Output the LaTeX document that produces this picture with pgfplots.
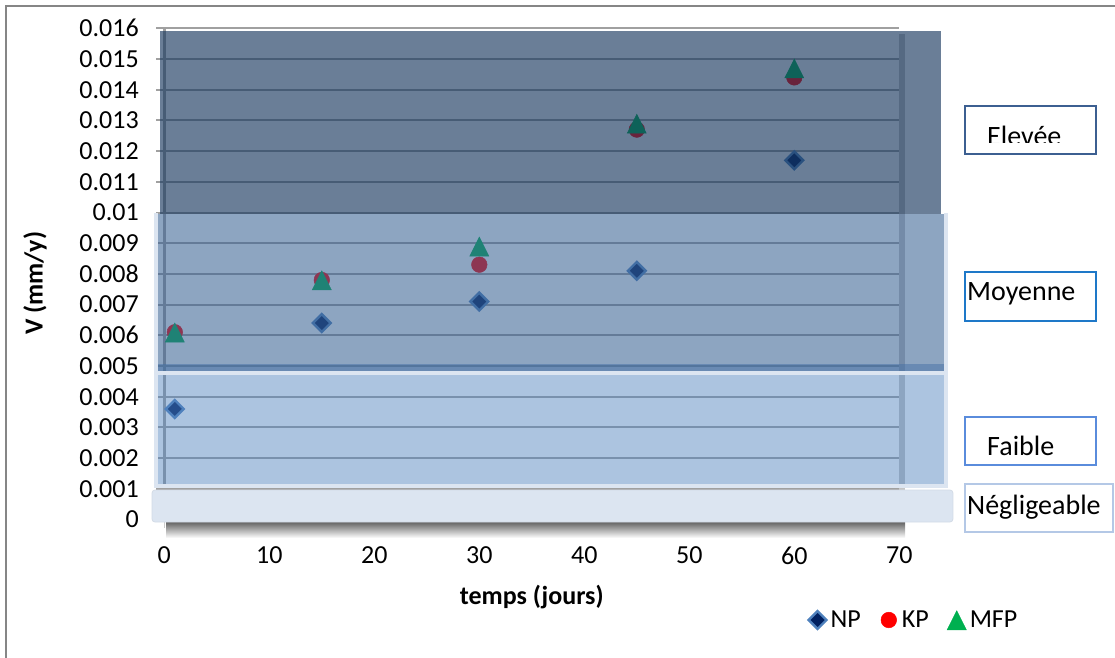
\documentclass[border=0pt]{standalone}
\usepackage{pgfplots}
\pgfplotsset{compat=1.18}
\usepackage{fontspec}
\setmainfont{Carlito}
\definecolor{npfill}{RGB}{0,32,96}
\definecolor{npedge}{RGB}{79,129,189}
\definecolor{kpc}{RGB}{255,0,0}
\definecolor{mfpc}{RGB}{0,176,80}
\definecolor{elev}{RGB}{23,55,94}
\definecolor{moy}{RGB}{55,96,146}
\definecolor{faib}{RGB}{79,129,189}
\definecolor{negl}{RGB}{220,229,241}
\definecolor{outl}{RGB}{220,229,241}
\definecolor{gridc}{RGB}{160,160,160}
\definecolor{xtickc}{RGB}{205,205,205}
\definecolor{framec}{RGB}{134,134,134}
\definecolor{shadowc}{RGB}{197,197,197}
\definecolor{boxA}{RGB}{60,95,145}
\definecolor{boxB}{RGB}{30,120,200}
\definecolor{boxC}{RGB}{90,140,220}
\definecolor{boxD}{RGB}{180,200,230}
\pgfplotsset{myleg/.style={legend image code/.code={\path[draw=none,fill=none] (0pt,0pt) -- (22pt,0pt);\draw[##1,draw=none] plot coordinates {(11pt,0pt)};}}}
\newcommand{\tfont}{\fontsize{26}{31}\selectfont}
\newcommand{\bfont}{\fontsize{28}{33}\selectfont}
\begin{document}
\begin{tikzpicture}
\begin{scope}[x=1pt,y=1pt]
\useasboundingbox (0,0) rectangle (1115,657);
\draw[framec, line width=1.5] (6,-5) -- (6,651) -- (1120,651);
% plot-area shadow
\fill[shadowc] (899,137) rectangle (905,623);
\fill[top color=black!65, bottom color=white] (166,119) rectangle (905,136);
\end{scope}
\begin{axis}[
  at={(164.3pt,137.5pt)}, anchor=south west,
  scale only axis, width=735pt, height=491.2pt,
  xmin=0, xmax=70, ymin=0, ymax=0.016,
  clip=false, set layers,
  axis x line*=bottom, axis y line*=left,
  axis line style={gridc, line width=2.5pt},
  xtick={0,10,20,30,40,50,60,70},
  xticklabels={0,10,20,30,40,50,60,70},
  ytick={0,0.001,0.002,0.003,0.004,0.005,0.006,0.007,0.008,0.009,0.01,0.011,0.012,0.013,0.014,0.015,0.016},
  yticklabels={0,0.001,0.002,0.003,0.004,0.005,0.006,0.007,0.008,0.009,0.01,0.011,0.012,0.013,0.014,0.015,0.016},
  scaled y ticks=false,
  tick align=outside, major tick length=8pt,
  ytick style={gridc, line width=2pt},
  xtick style={xtickc, line width=1.5pt},
  ymajorgrids, grid style={gridc, line width=2pt},
  tick label style={font=\tfont, text=black},
  yticklabel style={xshift=-14pt},
  xticklabel style={yshift=-16pt},
  label style={font=\tfont\bfseries},
  xlabel={temps (jours)}, ylabel={V (mm/y)},
  xlabel style={at={(axis description cs:0.5,-0.158)}, anchor=center},
  ylabel style={at={(axis description cs:-0.176,0.481)}, anchor=center},
  legend style={at={(axis description cs:1.0186,-0.2046)}, anchor=center, draw=none, fill=none,
    legend columns=3, font=\tfont, /tikz/every even column/.append style={column sep=15pt}},
  legend cell align=left,
]
\addplot[only marks, myleg, mark=square*, mark size=6.3pt,
  mark options={rotate=45, fill=npfill, draw=npedge, line width=2.4pt}]
  coordinates {(1,0.0036) (15,0.0064) (30,0.0071) (45,0.0081) (60,0.0117)};
\addlegendentry{NP}
\addplot[only marks, myleg, mark=*, mark size=7.8pt, color=kpc, mark options={fill=kpc, draw=kpc, line width=0.5pt}]
  coordinates {(1,0.0061) (15,0.0078) (30,0.0083) (45,0.0127) (60,0.0144)};
\addlegendentry{KP}
\addplot[only marks, myleg, mark=triangle*, mark size=11pt, color=mfpc, mark options={fill=mfpc, draw=mfpc, line width=0.5pt, yscale=1.15, yshift=-3pt}]
  coordinates {(1,0.0061) (15,0.0078) (30,0.0089) (45,0.0129) (60,0.0147)};
\addlegendentry{MFP}
% range bands (semi-transparent overlays, above the markers)
\addplot[forget plot, on layer=axis foreground, mark=none, draw=none, fill=faib, fill opacity=0.47]
  coordinates {(-0.838,0.001091) (74.40,0.001091) (74.40,0.005065) (-0.838,0.005065)} -- cycle;
\addplot[forget plot, on layer=axis foreground, mark=none, draw=outl, line width=4pt]
  coordinates {(-0.838,0.0047) (-0.838,0.001091) (74.40,0.001091) (74.40,0.0047)};
\addplot[forget plot, on layer=axis foreground, mark=none, draw=none, fill=moy, fill opacity=0.57]
  coordinates {(-0.838,0.004772) (74.40,0.004772) (74.40,0.009951) (-0.838,0.009951)} -- cycle;
\addplot[forget plot, on layer=axis foreground, mark=none, draw=outl, line width=4pt]
  coordinates {(-0.838,0.00998) (-0.838,0.004772) (74.40,0.004772) (74.40,0.00998)};
\addplot[forget plot, on layer=axis foreground, mark=none, draw=none, fill=elev, fill opacity=0.645]
  coordinates {(-0.41,0.009951) (73.97,0.009951) (73.97,0.015912) (-0.41,0.015912)} -- cycle;
\addplot[forget plot, on layer=axis foreground, mark=none, draw=negl!90!gray, line width=0.8pt, fill=negl, rounded corners=3pt]
  coordinates {(-1.171,-0.0000814) (75.11,-0.0000814) (75.11,0.000961) (-1.171,0.000961)} -- cycle;
\end{axis}
\begin{scope}[x=1pt,y=1pt]
% category boxes
\begin{scope}
\clip (965,514) rectangle (1096,551);
\node[anchor=base west, inner sep=0pt, font=\bfont] at (987,511) {Elevée};
\end{scope}
\draw[boxA, line width=2] (965,503) rectangle (1096,551);
\draw[boxB, line width=2] (965,336) rectangle (1096,385);
\node[anchor=base west, inner sep=0pt, font=\bfont] at (967,357) {Moyenne};
\draw[boxC, line width=2] (965,192) rectangle (1096,240);
\node[anchor=base west, inner sep=0pt, font=\bfont] at (987,202) {Faible};
\draw[boxD, line width=2] (965,125) rectangle (1113,173);
\node[anchor=base west, inner sep=0pt, font=\bfont] at (967,143) {Négligeable};
\end{scope}
\end{tikzpicture}
\end{document}
